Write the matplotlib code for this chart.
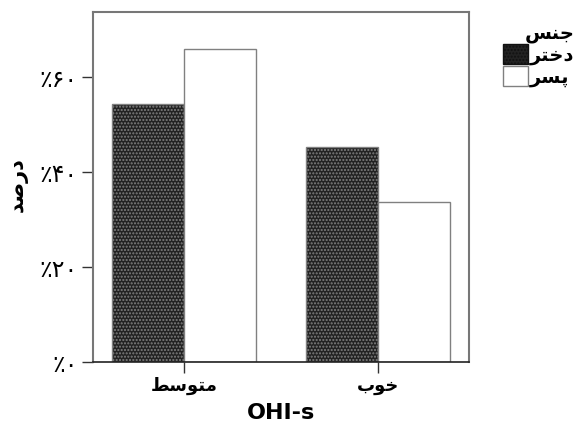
import matplotlib
matplotlib.use('Agg')
import matplotlib.pyplot as plt
import numpy as np

# Persian text written in visual (left-to-right) order with presentation forms,
# since matplotlib does no shaping / bidi
categories = ['\uFEC2\uFEB3\uFEEE\uFE98\uFEE3',   # motevaset
              '\uFE8F\uFEEE\uFEA7']                # khoob
girls = [0.543, 0.453]
boys = [0.659, 0.337]
series_names = ['\uFEAE\uFE98\uFEA7\uFEA9',        # dokhtar
                '\uFEAE\uFEB4\uFB58']              # pesar
legend_title = '\uFEB2\uFEE8\uFE9F'                # jens
ylabel = '\uFEAA\uFEBB\uFEAD\uFEA9'                # darsad
xlabel = 'OHI-s'
yticks = [0.0, 0.2, 0.4, 0.6]
yticklabels = ['\u066A\u06F0', '\u066A\u06F2\u06F0',
               '\u066A\u06F4\u06F0', '\u066A\u06F6\u06F0']

plt.rcParams['font.family'] = ['DejaVu Sans']
plt.rcParams['hatch.color'] = '#8a8a8a'
plt.rcParams['hatch.linewidth'] = 1.0

fig = plt.figure(figsize=(5.77, 4.26), dpi=100)
ax = fig.add_axes([93/577, 1-362/426, 376/577, 350/426])

x = np.arange(len(categories))
w = 0.371
ax.bar(x - w/2, girls, w, facecolor='#222222', edgecolor='#808080',
       hatch='.....', linewidth=1.0, label=series_names[0])
ax.bar(x + w/2, boys, w, facecolor='white', edgecolor='#808080',
       linewidth=1.0, label=series_names[1])

ax.set_xlim(-0.469, 1.469)
ax.set_ylim(0, 0.737)
ax.set_xticks(x)
ax.set_xticklabels(categories, fontsize=13, fontweight='bold')
ax.set_yticks(yticks)
ax.set_yticklabels(yticklabels, fontsize=17)
ax.tick_params(axis='both', direction='out', length=8, width=1.0, color='#333333', pad=3)

for s in ['top', 'right', 'left']:
    ax.spines[s].set_color('#777777')
    ax.spines[s].set_linewidth(1.5)
ax.spines['bottom'].set_color('#222222')
ax.spines['bottom'].set_linewidth(1.2)

ax.set_xlabel(xlabel, fontsize=16, fontweight='bold', va='center')
ax.xaxis.set_label_coords(0.5, (362 - 413) / 350)
ax.set_ylabel(ylabel, fontsize=15, fontweight='bold', va='center')
ax.yaxis.set_label_coords((18 - 93) / 376, (362 - 185) / 350)

leg = ax.legend(loc='upper left', bbox_to_anchor=(503/577, 1-24/426),
                bbox_transform=fig.transFigure, frameon=False,
                title=legend_title, fontsize=14, handlelength=1.3,
                handleheight=1.2, handletextpad=0.1, labelspacing=0.05,
                borderpad=0, borderaxespad=0, alignment='right')
leg.get_title().set_fontsize(14)
leg.get_title().set_fontweight('bold')
for t in leg.get_texts():
    t.set_fontweight('bold')
leg.legend_handles[0].set_edgecolor('#111111')

fig.savefig('out.png', dpi=100)
